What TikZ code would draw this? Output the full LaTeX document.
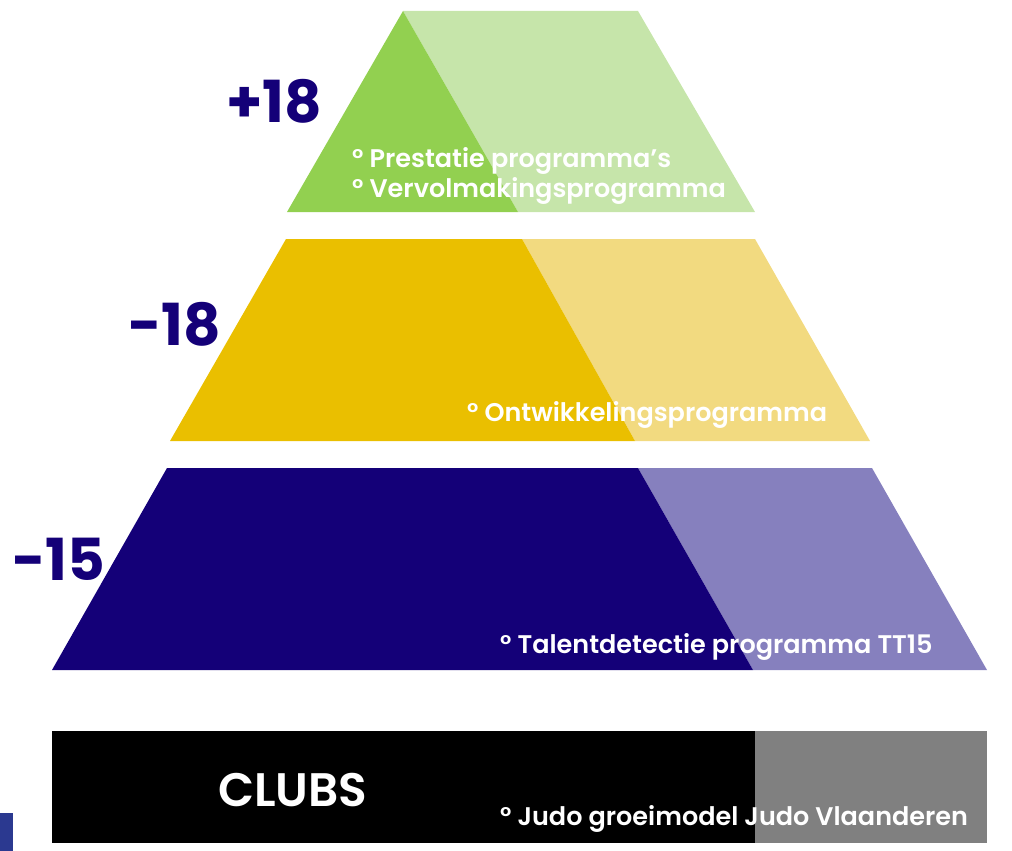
\documentclass[tikz,border=0pt]{standalone}
\usepackage{fontspec}
\setmainfont{Poppins}
\newfontfamily\semifont{Poppins SemiBold}
\usetikzlibrary{positioning}

\definecolor{greenDark}{HTML}{92D050}
\definecolor{greenLight}{HTML}{C6E5AA}
\definecolor{yellowDark}{HTML}{EABF00}
\definecolor{yellowLight}{HTML}{F2DA80}
\definecolor{navyDark}{HTML}{140078}
\definecolor{navyLight}{HTML}{8680BE}
\definecolor{clubGrey}{HTML}{808080}
\definecolor{tabBlue}{HTML}{2B3990}

\begin{document}
\begin{tikzpicture}[x=1pt, y=-1pt,
    agelabel/.style = {anchor=base west, inner sep=0pt, text=navyDark,
    font=\bfseries\fontsize{58}{58}\selectfont},
    proglabel/.style = {anchor=base west, inner sep=0pt, text=white,
    font=\semifont\fontsize{25.5}{25.5}\selectfont}]

  \useasboundingbox (0,0) rectangle (1012,851);

  % top layer
  \fill[greenLight] (403,11) -- (638,11) -- (755,212) -- (518,212) -- cycle;
  \fill[greenDark] (403,11) -- (518,212) -- (287,212) -- cycle;

  % middle layer
  \fill[yellowLight] (522,239) -- (755,239) -- (870,441) -- (635,441) -- cycle;
  \fill[yellowDark] (286,239) -- (522,239) -- (635,441) -- (170,441) -- cycle;

  % bottom layer
  \fill[navyLight] (638,468) -- (872,468) -- (987,670) -- (753,670) -- cycle;
  \fill[navyDark] (167,468) -- (638,468) -- (753,670) -- (52,670) -- cycle;

  % clubs bar
  \fill[black] (52,731) rectangle (755,843);
  \fill[clubGrey] (755,731) rectangle (987,843);
  \fill[tabBlue] (0,813) rectangle (13,851);

  \node[agelabel] (plus18) at (226,122) {+18};
  \node[agelabel] (min18) at (128,345) {-18};
  \node[agelabel] (min15) at (12,580) {-15};

  \node[proglabel] (prestatie) at (352,167) {° Prestatie programma’s};
  \node[proglabel, below=30pt of prestatie.base west, anchor=base west] (vervolmaking) {° Vervolmakingsprogramma};
  \node[proglabel] (ontwikkeling) at (467,421) {° Ontwikkelingsprogramma};
  \node[proglabel] (talent) at (500,653) {° Talentdetectie programma TT15};
  \node[proglabel] (groeimodel) at (500,825) {° Judo groeimodel Judo Vlaanderen};

  \node[anchor=base west, inner sep=0pt, text=white, font=\semifont\fontsize{47}{47}\selectfont] (clubs) at (218,806) {CLUBS};

\end{tikzpicture}
\end{document}
